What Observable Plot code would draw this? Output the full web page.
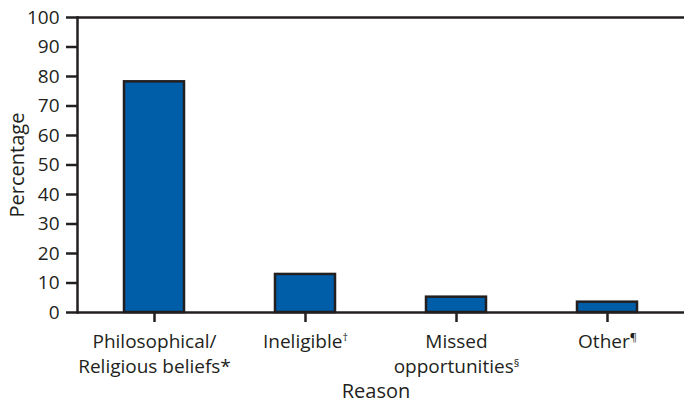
<!DOCTYPE html>
<html><head><meta charset="utf-8">
<script src="https://cdn.jsdelivr.net/npm/d3@7"></script>
<script src="https://cdn.jsdelivr.net/npm/@observablehq/plot@0.6"></script>
<style>body{margin:0;background:#fff}</style>
</head><body><div id="chart"></div>
<script>
const reasons = ["Philosophical/\nReligious beliefs*", "Ineligible†", "Missed\nopportunities§", "Other¶"];
const percentages = [78.2, 12.9, 5.2, 3.5];
const yTicks = [0, 10, 20, 30, 40, 50, 60, 70, 80, 90, 100];
const data = reasons.map((r, i) => ({reason: r, pct: percentages[i]}));
const ink = "#231f20";
const chart = Plot.plot({
  width: 684, height: 402,
  marginLeft: 77, marginRight: 0, marginTop: 17, marginBottom: 90,
  style: {fontFamily: "'Open Sans', sans-serif", fontSize: "19px", color: ink, background: "#fff", overflow: "visible"},
  x: {domain: reasons, paddingInner: 0.6, paddingOuter: 0.3},
  y: {domain: [0, 100]},
  marks: [
    Plot.barY(data, {x: "reason", y: "pct", fill: "#005DA8", stroke: ink, strokeWidth: 2.5}),
    Plot.ruleY([0, 100], {stroke: ink, strokeWidth: 2.5}),
    Plot.frame({anchor: "left", stroke: ink, strokeWidth: 2.5}),
    Plot.axisY({ticks: yTicks, tickSize: 11, tickPadding: 7, strokeWidth: 2.5, stroke: ink, fill: ink, fontSize: 19,
      label: "Percentage", labelAnchor: "center", labelOffset: 68, labelArrow: false, tickFormat: d => String(d)}),
    Plot.axisX({tickSize: 10, tickPadding: 7, strokeWidth: 2.5, stroke: ink, fill: ink, lineHeight: 1.35, fontSize: 19,
      label: "Reason", labelAnchor: "center", labelOffset: 85})
  ]
});
document.getElementById("chart").append(chart);
// enlarge axis labels
chart.querySelectorAll('[aria-label="x-axis label"], [aria-label="y-axis label"]').forEach(g => g.setAttribute("font-size", "20"));
chart.querySelectorAll('[aria-label="x-axis label"] text').forEach(t => t.setAttribute("dx", "-5"));
// superscript footnote symbols in x tick labels
chart.querySelectorAll('[aria-label="x-axis tick label"] tspan, [aria-label="x-axis tick label"] text').forEach(el => {
  if (el.children.length) return;
  const t = el.textContent;
  const m = t.match(/^(.*?)([†§¶])$/);
  if (!m) return;
  el.textContent = m[1];
  const sup = document.createElementNS("http://www.w3.org/2000/svg", "tspan");
  sup.setAttribute("font-size", "11");
  sup.setAttribute("dy", "-0.6em");
  sup.textContent = m[2];
  el.appendChild(sup);
});
</script>
</body></html>
